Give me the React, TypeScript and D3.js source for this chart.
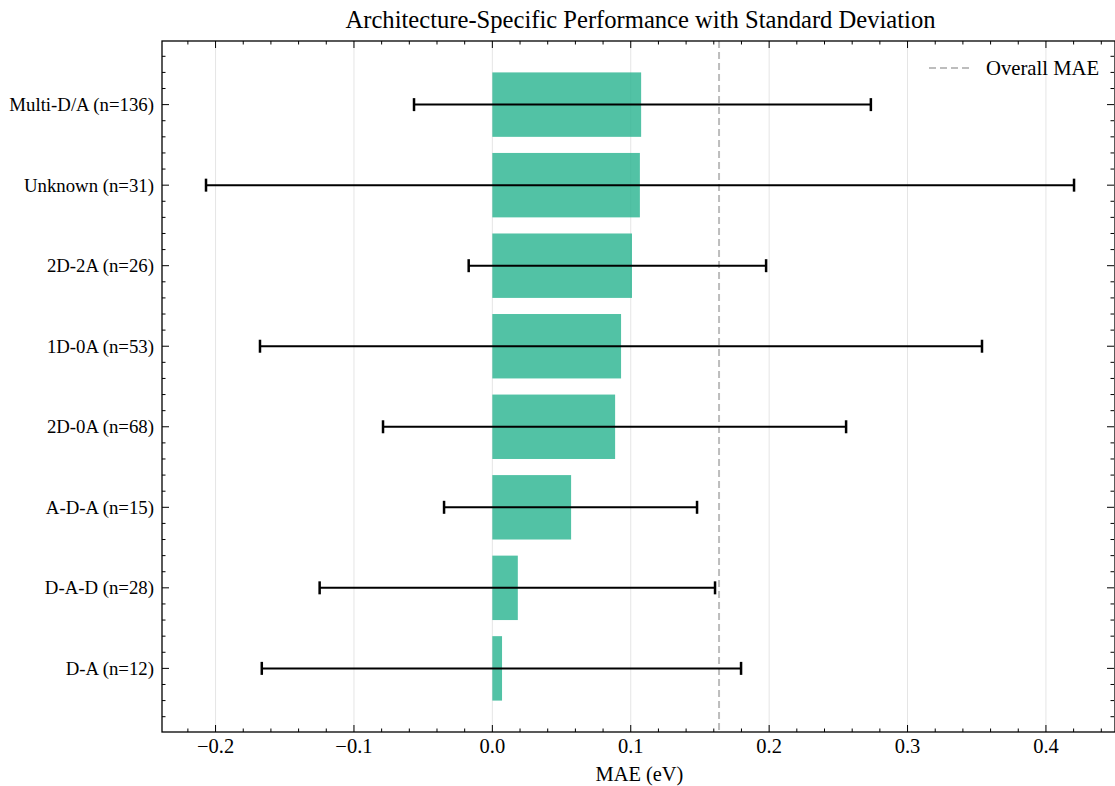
import React, { useEffect, useRef } from "react";
import * as d3 from "d3";

const categories = ["D-A (n=12)", "D-A-D (n=28)", "A-D-A (n=15)", "2D-0A (n=68)", "1D-0A (n=53)", "2D-2A (n=26)", "Unknown (n=31)", "Multi-D/A (n=136)"];
const maeValues = [0.007, 0.0184, 0.0569, 0.0887, 0.093, 0.1009, 0.1066, 0.1075];
const errLow = [-0.1666, -0.1248, -0.0349, -0.079, -0.1679, -0.0171, -0.2069, -0.0566];
const errHigh = [0.1797, 0.1609, 0.1479, 0.2556, 0.3538, 0.1978, 0.4203, 0.2735];
const overallMAE = 0.1638;
const xTicks = [-0.2, -0.1, 0.0, 0.1, 0.2, 0.3, 0.4];

const W = 1115, H = 786;
const M = { left: 162, right: 1115, top: 41, bottom: 732 };
const FONT = "'Liberation Serif', 'DejaVu Serif', serif";

export default function App() {
  const ref = useRef<SVGSVGElement>(null);
  useEffect(() => {
    document.body.style.margin = "0";
    const svg = d3.select(ref.current);
    svg.selectAll("*").remove();
    const x = d3.scaleLinear().domain([-0.2387, 0.4499]).range([M.left, M.right]);
    const y = d3.scaleLinear().domain([-0.79, 7.79]).range([M.bottom, M.top]);
    const g = svg.append("g");

    // grid
    g.selectAll(".grid").data(xTicks).enter().append("line")
      .attr("x1", (d) => x(d)).attr("x2", (d) => x(d))
      .attr("y1", M.top).attr("y2", M.bottom)
      .attr("stroke", "#e5e5e5").attr("stroke-width", 1);

    // bars
    const bh = 0.8;
    g.selectAll(".bar").data(maeValues).enter().append("rect")
      .attr("x", x(0))
      .attr("y", (_, i) => y(i + bh / 2))
      .attr("width", (d) => x(d) - x(0))
      .attr("height", y(-bh / 2) - y(bh / 2))
      .attr("fill", "#27b38f").attr("fill-opacity", 0.8);

    // overall line
    g.append("line").attr("x1", x(overallMAE)).attr("x2", x(overallMAE))
      .attr("y1", M.top).attr("y2", M.bottom)
      .attr("stroke", "#bdbdbd").attr("stroke-width", 2).attr("stroke-dasharray", "7,4");

    // error bars
    const cap = 6.5;
    categories.forEach((_, i) => {
      const yy = y(i);
      g.append("line").attr("x1", x(errLow[i])).attr("x2", x(errHigh[i]))
        .attr("y1", yy).attr("y2", yy).attr("stroke", "#000").attr("stroke-width", 2);
      [errLow[i], errHigh[i]].forEach((v) => {
        g.append("line").attr("x1", x(v)).attr("x2", x(v))
          .attr("y1", yy - cap).attr("y2", yy + cap).attr("stroke", "#000").attr("stroke-width", 2.5);
      });
    });

    // frame
    g.append("rect").attr("x", M.left).attr("y", M.top)
      .attr("width", M.right - M.left).attr("height", M.bottom - M.top)
      .attr("fill", "none").attr("stroke", "#000").attr("stroke-width", 1.3);

    // ticks
    const tk = g.append("g").attr("stroke", "#000").attr("stroke-width", 1);
    const minorX = d3.range(-0.22, 0.45, 0.02).filter((v) => x(v) >= M.left && x(v) <= M.right);
    minorX.forEach((v) => {
      const isMajor = xTicks.some((t) => Math.abs(t - v) < 1e-6);
      const len = isMajor ? 7 : 3.5;
      tk.append("line").attr("x1", x(v)).attr("x2", x(v)).attr("y1", M.bottom).attr("y2", M.bottom - len);
      tk.append("line").attr("x1", x(v)).attr("x2", x(v)).attr("y1", M.top).attr("y2", M.top + len);
    });
    const minorY = d3.range(-0.6, 7.8, 0.2).filter((v) => y(v) >= M.top && y(v) <= M.bottom);
    minorY.forEach((v) => {
      const isMajor = Math.abs(v - Math.round(v)) < 1e-6;
      const len = isMajor ? 7 : 3.5;
      tk.append("line").attr("x1", M.left).attr("x2", M.left + len).attr("y1", y(v)).attr("y2", y(v));
      tk.append("line").attr("x1", M.right - 1).attr("x2", M.right - 1 - len).attr("y1", y(v)).attr("y2", y(v));
    });

    // x tick labels
    g.selectAll(".xl").data(xTicks).enter().append("text")
      .attr("x", (d) => x(d)).attr("y", 753)
      .attr("text-anchor", "middle").attr("font-family", FONT).attr("font-size", 20.5)
      .text((d) => (d < 0 ? "\u2212" : "") + Math.abs(d).toFixed(1));

    // y labels
    g.selectAll(".yl").data(categories).enter().append("text")
      .attr("x", M.left - 8).attr("y", (_, i) => y(i)).attr("dy", "0.35em")
      .attr("text-anchor", "end").attr("font-family", FONT).attr("font-size", 18.8)
      .text((d) => d);

    // x label
    g.append("text").attr("x", (M.left + M.right) / 2 + 1).attr("y", 781)
      .attr("text-anchor", "middle").attr("font-family", FONT).attr("font-size", 20.4)
      .text("MAE (eV)");

    // title
    g.append("text").attr("x", (M.left + M.right) / 2 + 2).attr("y", 28)
      .attr("text-anchor", "middle").attr("font-family", FONT).attr("font-size", 24.6)
      .text("Architecture-Specific Performance with Standard Deviation");

    // legend
    g.append("line").attr("x1", 929).attr("x2", 971).attr("y1", 68).attr("y2", 68)
      .attr("stroke", "#bdbdbd").attr("stroke-width", 2).attr("stroke-dasharray", "7,4");
    g.append("text").attr("x", 986).attr("y", 68).attr("dy", "0.35em")
      .attr("font-family", FONT).attr("font-size", 20.7).text("Overall MAE");
  }, []);
  return <svg ref={ref} width={W} height={H} style={{ display: "block" }} />;
}
